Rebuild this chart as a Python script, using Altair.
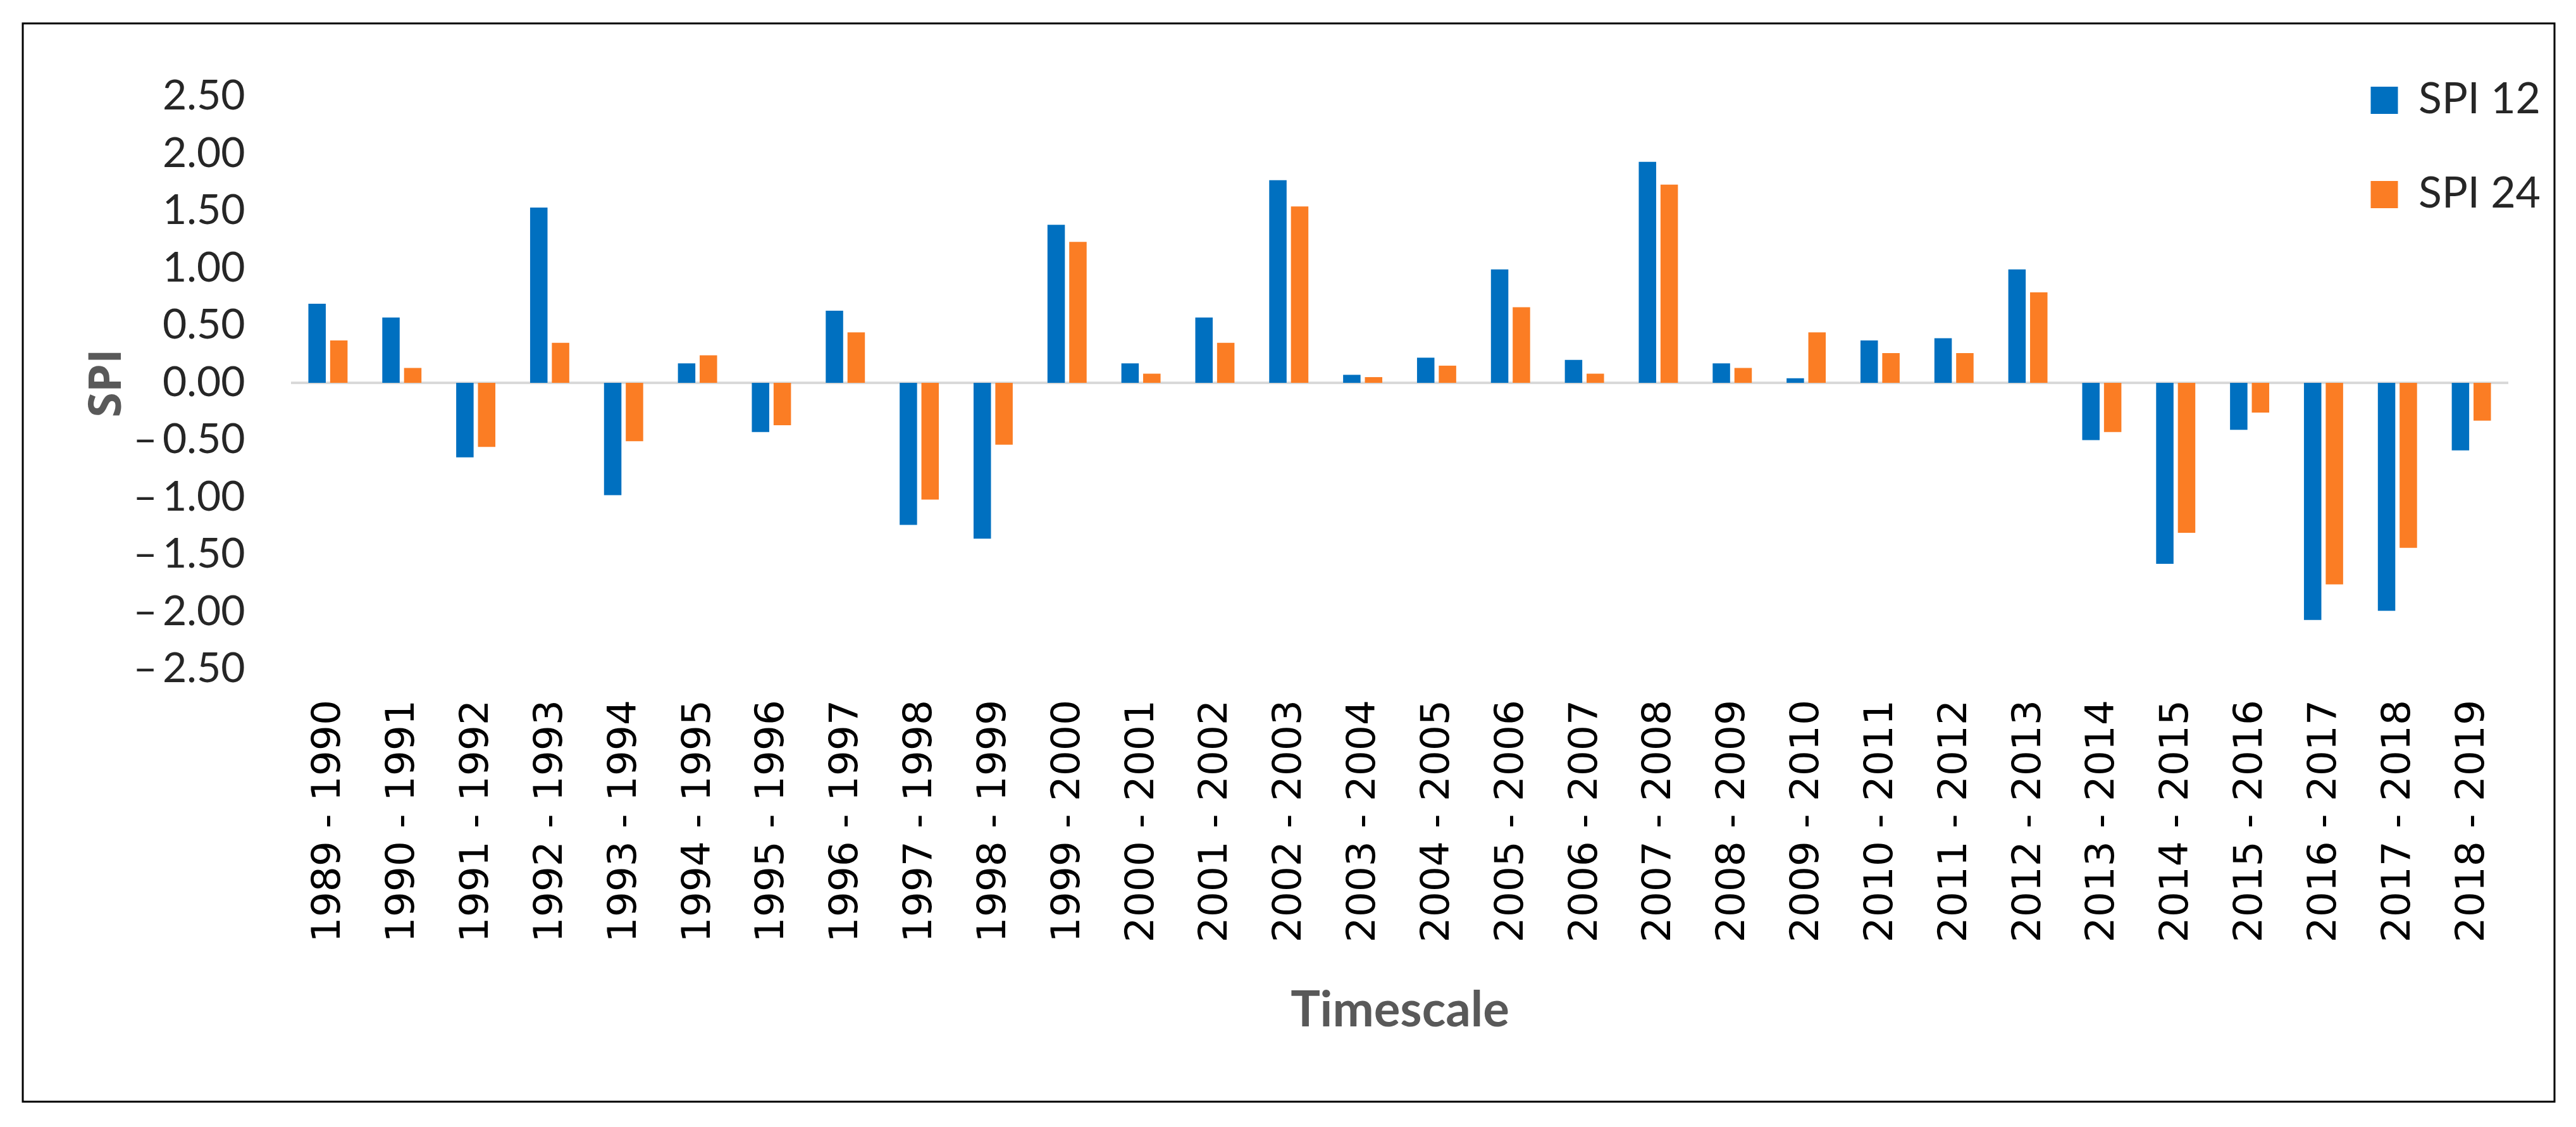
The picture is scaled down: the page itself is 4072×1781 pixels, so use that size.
import altair as alt
import pandas as pd

categories = [
    "1989 - 1990", "1990 - 1991", "1991 - 1992", "1992 - 1993", "1993 - 1994",
    "1994 - 1995", "1995 - 1996", "1996 - 1997", "1997 - 1998", "1998 - 1999",
    "1999 - 2000", "2000 - 2001", "2001 - 2002", "2002 - 2003", "2003 - 2004",
    "2004 - 2005", "2005 - 2006", "2006 - 2007", "2007 - 2008", "2008 - 2009",
    "2009 - 2010", "2010 - 2011", "2011 - 2012", "2012 - 2013", "2013 - 2014",
    "2014 - 2015", "2015 - 2016", "2016 - 2017", "2017 - 2018", "2018 - 2019",
]
spi12 = [0.69, 0.57, -0.65, 1.53, -0.98, 0.17, -0.43, 0.63, -1.24, -1.36,
         1.38, 0.17, 0.57, 1.77, 0.07, 0.22, 0.99, 0.20, 1.93, 0.17,
         0.04, 0.37, 0.39, 0.99, -0.50, -1.58, -0.41, -2.07, -1.99, -0.59]
spi24 = [0.37, 0.13, -0.56, 0.35, -0.51, 0.24, -0.37, 0.44, -1.02, -0.54,
         1.23, 0.08, 0.35, 1.54, 0.05, 0.15, 0.66, 0.08, 1.73, 0.13,
         0.44, 0.26, 0.26, 0.79, -0.43, -1.31, -0.26, -1.76, -1.44, -0.33]
series = ["SPI 12", "SPI 24"]
colors = ["#0070C0", "#FB7D24"]
y_ticks = [2.5, 2.0, 1.5, 1.0, 0.5, 0.0, -0.5, -1.0, -1.5, -2.0, -2.5]

rows = []
for c, a, b in zip(categories, spi12, spi24):
    rows.append({"Timescale": c, "Series": series[0], "SPI": a})
    rows.append({"Timescale": c, "Series": series[1], "SPI": b})
df = pd.DataFrame(rows)

W, H = 3505, 905
SANS = "Lato, Open Sans, sans-serif"

bars = alt.Chart(df).mark_bar().encode(
    x=alt.X("Timescale:N", sort=categories,
            scale=alt.Scale(paddingInner=0.47, paddingOuter=0.235),
            axis=alt.Axis(title="Timescale", labelAngle=-90, labelFont="DejaVu Sans",
                          labelFontSize=63, labelColor="#000000", labelPadding=48,
                          labelLimit=2000,
                          ticks=False, tickSize=0, domain=False,
                          titleFont=SANS, titleFontSize=78, titleFontWeight="bold",
                          titleColor="#595959", titleX=W / 2, titleY=564,
                          titleAlign="center", titleBaseline="alphabetic")),
    xOffset=alt.XOffset("Series:N", sort=series,
                        scale=alt.Scale(paddingInner=0.2, paddingOuter=0)),
    y=alt.Y("SPI:Q", scale=alt.Scale(domain=[-2.5, 2.5], nice=False),
            axis=alt.Axis(title="SPI", values=y_ticks, grid=False, domain=False,
                          ticks=False, tickSize=0, labelPadding=73, labelLimit=2000,
                          labelFont=SANS, labelFontSize=66, labelColor="#262626",
                          labelExpr="datum.value < 0 ? '\u2013\u2009' + format(-datum.value, '.2f') : format(datum.value, '.2f')",
                          titleFont="Open Sans", titleFontSize=72, titleFontWeight="bold",
                          titleColor="#595959", titleX=-292, titleY=H / 2,
                          titleAngle=270, titleAlign="center", titleBaseline="middle")),
    color=alt.Color("Series:N", scale=alt.Scale(domain=series, range=colors),
                    legend=alt.Legend(title=None, orient="none", legendX=3275, legendY=-28,
                                      symbolType="square", symbolSize=1849,
                                      symbolStrokeWidth=0, labelFont=SANS,
                                      labelFontSize=68, labelColor="#262626",
                                      labelLimit=2000,
                                      labelOffset=20, rowPadding=81, padding=0)),
)

zero = alt.Chart(alt.Data(values=[{"v": 0}])).mark_rule(
    color="#D9D9D9", strokeWidth=4
).encode(y="v:Q")

frame = alt.Chart(alt.Data(values=[{"f": 1}])).mark_rect(
    filled=False, stroke="#000000", strokeWidth=3
).encode(x=alt.value(-424), x2=alt.value(3578), y=alt.value(-115.5), y2=alt.value(1588.5))

chart = alt.layer(zero, bars, frame).properties(
    width=W, height=H,
    background="white",
    padding={"left": 452, "top": 144.5, "right": 99, "bottom": 700},
    autosize=alt.AutoSizeParams(type="none"),
).configure_view(strokeWidth=0, stroke="transparent")

chart.save("out.html", embed_options={"renderer": "svg", "actions": False})
